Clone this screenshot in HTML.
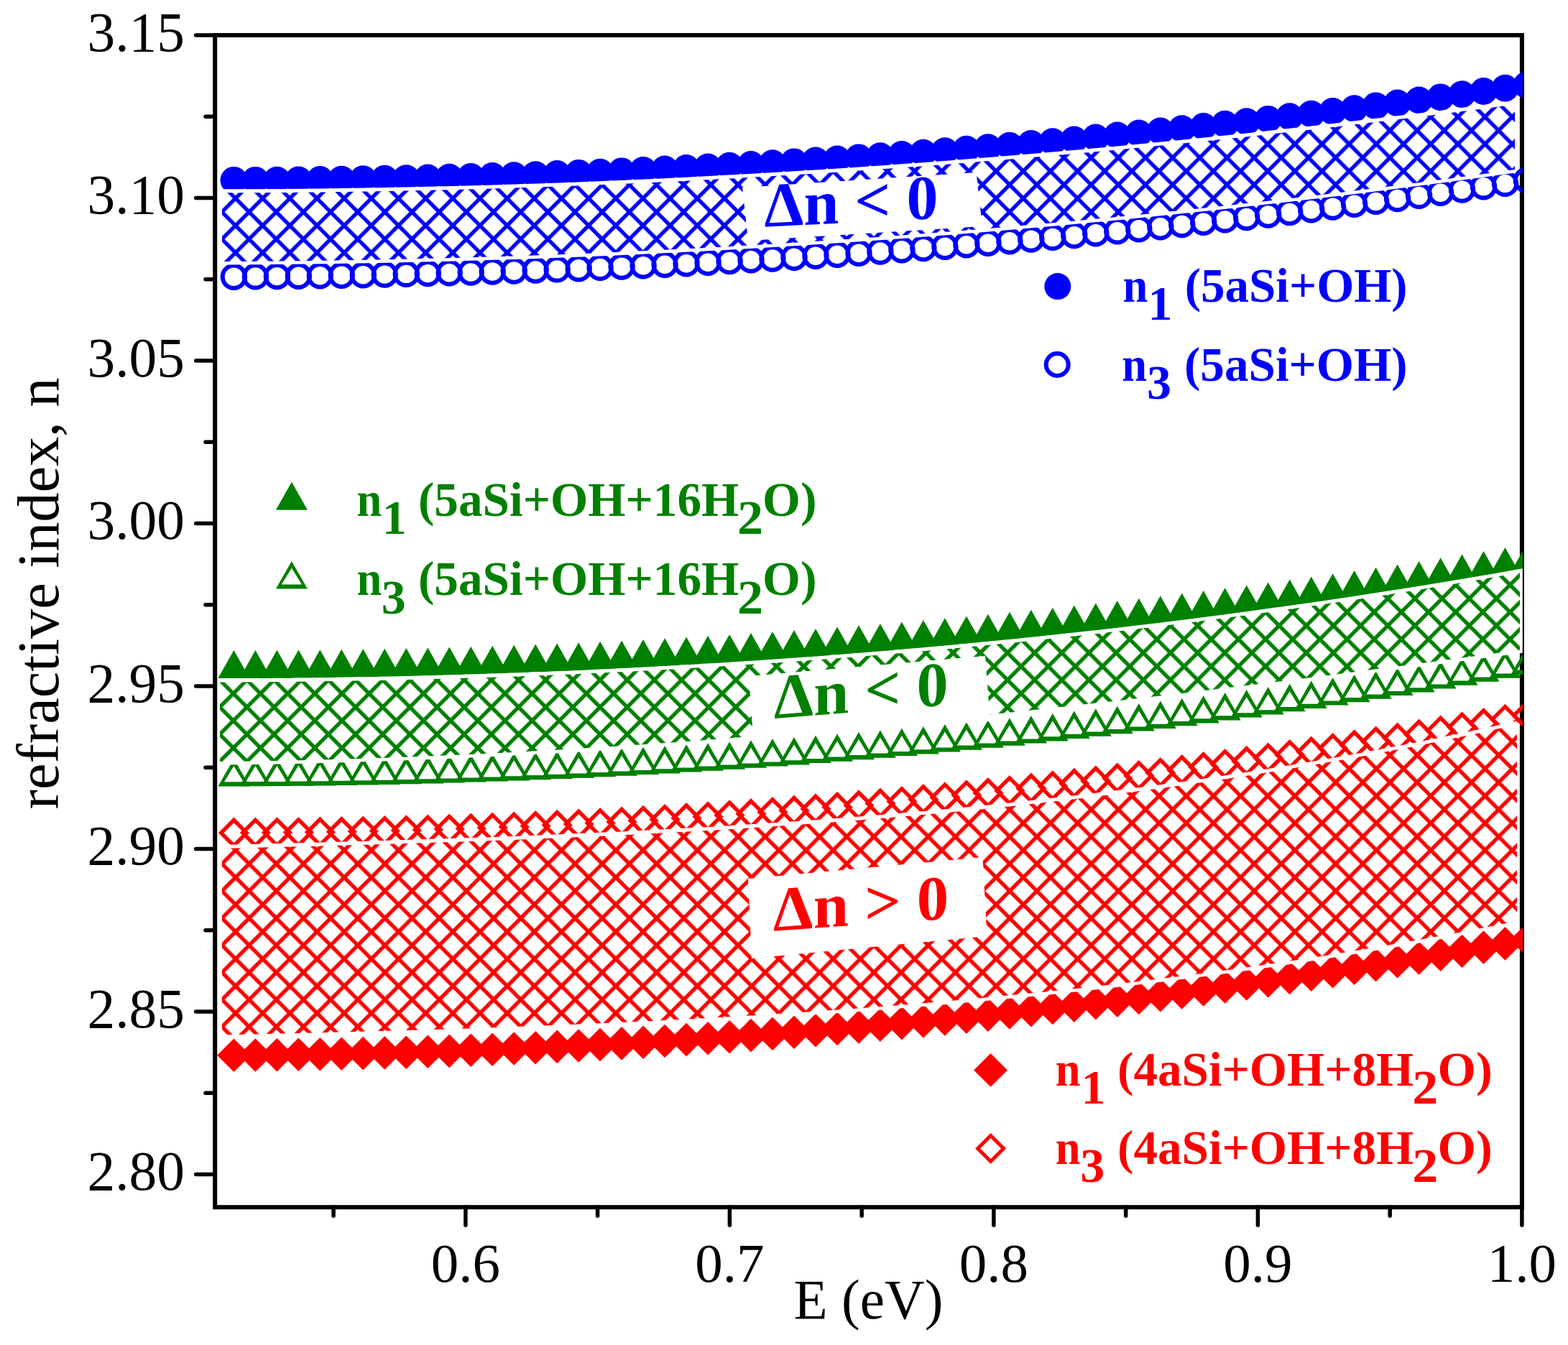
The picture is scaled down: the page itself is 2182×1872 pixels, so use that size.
<!DOCTYPE html><html><head><meta charset="utf-8"><style>html,body{margin:0;padding:0;background:#fff;}svg{display:block}</style></head><body>
<svg width="2182" height="1872" viewBox="0 0 2182 1872">
<defs>
<clipPath id="plot"><rect x="299" y="49" width="1820" height="1631"/></clipPath>
<pattern id="hb" patternUnits="userSpaceOnUse" x="327.7" y="276.1" width="37.8" height="37.8"><path d="M-18.9,-18.9 L56.699999999999996,56.699999999999996 M-18.9,56.699999999999996 L56.699999999999996,-18.9 M-18.9,18.9 L18.9,-18.9 M18.9,56.699999999999996 L56.699999999999996,18.9 M-18.9,18.9 L18.9,56.699999999999996 M18.9,-18.9 L56.699999999999996,18.9" stroke="#0000ff" stroke-width="5.4" fill="none"/></pattern>
<pattern id="hg" patternUnits="userSpaceOnUse" x="324.7" y="965.3" width="37.8" height="37.8"><path d="M-18.9,-18.9 L56.699999999999996,56.699999999999996 M-18.9,56.699999999999996 L56.699999999999996,-18.9 M-18.9,18.9 L18.9,-18.9 M18.9,56.699999999999996 L56.699999999999996,18.9 M-18.9,18.9 L18.9,56.699999999999996 M18.9,-18.9 L56.699999999999996,18.9" stroke="#008000" stroke-width="5.4" fill="none"/></pattern>
<pattern id="hr" patternUnits="userSpaceOnUse" x="327.8" y="1183.4" width="37.8" height="37.8"><path d="M-18.9,-18.9 L56.699999999999996,56.699999999999996 M-18.9,56.699999999999996 L56.699999999999996,-18.9 M-18.9,18.9 L18.9,-18.9 M18.9,56.699999999999996 L56.699999999999996,18.9 M-18.9,18.9 L18.9,56.699999999999996 M18.9,-18.9 L56.699999999999996,18.9" stroke="#ff0000" stroke-width="5.4" fill="none"/></pattern>
</defs>
<rect width="100%" height="100%" fill="#fff"/>
<rect x="299.2" y="49" width="1818.7" height="1631.2" stroke="#000" stroke-width="6" fill="none"/>
<g clip-path="url(#plot)">
<g><circle cx="325.4" cy="250.8" r="18.9" fill="#0000ff"/><circle cx="355.4" cy="250.8" r="18.9" fill="#0000ff"/><circle cx="385.4" cy="250.6" r="18.9" fill="#0000ff"/><circle cx="415.4" cy="250.4" r="18.9" fill="#0000ff"/><circle cx="445.3" cy="250" r="18.9" fill="#0000ff"/><circle cx="475.3" cy="249.7" r="18.9" fill="#0000ff"/><circle cx="505.3" cy="249.2" r="18.9" fill="#0000ff"/><circle cx="535.3" cy="248.7" r="18.9" fill="#0000ff"/><circle cx="565.3" cy="248.1" r="18.9" fill="#0000ff"/><circle cx="595.3" cy="247.5" r="18.9" fill="#0000ff"/><circle cx="625.2" cy="246.7" r="18.9" fill="#0000ff"/><circle cx="655.2" cy="245.9" r="18.9" fill="#0000ff"/><circle cx="685.2" cy="245" r="18.9" fill="#0000ff"/><circle cx="715.2" cy="244.1" r="18.9" fill="#0000ff"/><circle cx="745.2" cy="243.1" r="18.9" fill="#0000ff"/><circle cx="775.2" cy="242" r="18.9" fill="#0000ff"/><circle cx="805.2" cy="240.8" r="18.9" fill="#0000ff"/><circle cx="835.1" cy="239.6" r="18.9" fill="#0000ff"/><circle cx="865.1" cy="238.3" r="18.9" fill="#0000ff"/><circle cx="895.1" cy="236.9" r="18.9" fill="#0000ff"/><circle cx="925.1" cy="235.5" r="18.9" fill="#0000ff"/><circle cx="955.1" cy="234" r="18.9" fill="#0000ff"/><circle cx="985.1" cy="232.4" r="18.9" fill="#0000ff"/><circle cx="1015.1" cy="230.7" r="18.9" fill="#0000ff"/><circle cx="1045" cy="229" r="18.9" fill="#0000ff"/><circle cx="1075" cy="227.2" r="18.9" fill="#0000ff"/><circle cx="1105" cy="225.3" r="18.9" fill="#0000ff"/><circle cx="1135" cy="223.4" r="18.9" fill="#0000ff"/><circle cx="1165" cy="221.4" r="18.9" fill="#0000ff"/><circle cx="1195" cy="219.3" r="18.9" fill="#0000ff"/><circle cx="1224.9" cy="217.1" r="18.9" fill="#0000ff"/><circle cx="1254.9" cy="214.9" r="18.9" fill="#0000ff"/><circle cx="1284.9" cy="212.6" r="18.9" fill="#0000ff"/><circle cx="1314.9" cy="210.2" r="18.9" fill="#0000ff"/><circle cx="1344.9" cy="207.7" r="18.9" fill="#0000ff"/><circle cx="1374.9" cy="205.2" r="18.9" fill="#0000ff"/><circle cx="1404.9" cy="202.6" r="18.9" fill="#0000ff"/><circle cx="1434.8" cy="199.9" r="18.9" fill="#0000ff"/><circle cx="1464.8" cy="197.2" r="18.9" fill="#0000ff"/><circle cx="1494.8" cy="194.4" r="18.9" fill="#0000ff"/><circle cx="1524.8" cy="191.5" r="18.9" fill="#0000ff"/><circle cx="1554.8" cy="188.5" r="18.9" fill="#0000ff"/><circle cx="1584.8" cy="185.5" r="18.9" fill="#0000ff"/><circle cx="1614.8" cy="182.4" r="18.9" fill="#0000ff"/><circle cx="1644.7" cy="179.2" r="18.9" fill="#0000ff"/><circle cx="1674.7" cy="176" r="18.9" fill="#0000ff"/><circle cx="1704.7" cy="172.6" r="18.9" fill="#0000ff"/><circle cx="1734.7" cy="169.2" r="18.9" fill="#0000ff"/><circle cx="1764.7" cy="165.8" r="18.9" fill="#0000ff"/><circle cx="1794.7" cy="162.2" r="18.9" fill="#0000ff"/><circle cx="1824.7" cy="158.6" r="18.9" fill="#0000ff"/><circle cx="1854.6" cy="154.9" r="18.9" fill="#0000ff"/><circle cx="1884.6" cy="151.1" r="18.9" fill="#0000ff"/><circle cx="1914.6" cy="147.3" r="18.9" fill="#0000ff"/><circle cx="1944.6" cy="143.4" r="18.9" fill="#0000ff"/><circle cx="1974.6" cy="139.4" r="18.9" fill="#0000ff"/><circle cx="2004.6" cy="135.3" r="18.9" fill="#0000ff"/><circle cx="2034.5" cy="131.2" r="18.9" fill="#0000ff"/><circle cx="2064.5" cy="127" r="18.9" fill="#0000ff"/><circle cx="2094.5" cy="122.7" r="18.9" fill="#0000ff"/><circle cx="2124.5" cy="118.4" r="18.9" fill="#0000ff"/></g>
<g><circle cx="325.4" cy="385.2" r="15.7" fill="none" stroke="#0000ff" stroke-width="6"/><circle cx="355.4" cy="384.9" r="15.7" fill="none" stroke="#0000ff" stroke-width="6"/><circle cx="385.4" cy="384.6" r="15.7" fill="none" stroke="#0000ff" stroke-width="6"/><circle cx="415.4" cy="384.2" r="15.7" fill="none" stroke="#0000ff" stroke-width="6"/><circle cx="445.3" cy="383.8" r="15.7" fill="none" stroke="#0000ff" stroke-width="6"/><circle cx="475.3" cy="383.3" r="15.7" fill="none" stroke="#0000ff" stroke-width="6"/><circle cx="505.3" cy="382.7" r="15.7" fill="none" stroke="#0000ff" stroke-width="6"/><circle cx="535.3" cy="382.1" r="15.7" fill="none" stroke="#0000ff" stroke-width="6"/><circle cx="565.3" cy="381.4" r="15.7" fill="none" stroke="#0000ff" stroke-width="6"/><circle cx="595.3" cy="380.6" r="15.7" fill="none" stroke="#0000ff" stroke-width="6"/><circle cx="625.2" cy="379.8" r="15.7" fill="none" stroke="#0000ff" stroke-width="6"/><circle cx="655.2" cy="379" r="15.7" fill="none" stroke="#0000ff" stroke-width="6"/><circle cx="685.2" cy="378" r="15.7" fill="none" stroke="#0000ff" stroke-width="6"/><circle cx="715.2" cy="377" r="15.7" fill="none" stroke="#0000ff" stroke-width="6"/><circle cx="745.2" cy="376" r="15.7" fill="none" stroke="#0000ff" stroke-width="6"/><circle cx="775.2" cy="374.9" r="15.7" fill="none" stroke="#0000ff" stroke-width="6"/><circle cx="805.2" cy="373.7" r="15.7" fill="none" stroke="#0000ff" stroke-width="6"/><circle cx="835.1" cy="372.4" r="15.7" fill="none" stroke="#0000ff" stroke-width="6"/><circle cx="865.1" cy="371.1" r="15.7" fill="none" stroke="#0000ff" stroke-width="6"/><circle cx="895.1" cy="369.7" r="15.7" fill="none" stroke="#0000ff" stroke-width="6"/><circle cx="925.1" cy="368.3" r="15.7" fill="none" stroke="#0000ff" stroke-width="6"/><circle cx="955.1" cy="366.8" r="15.7" fill="none" stroke="#0000ff" stroke-width="6"/><circle cx="985.1" cy="365.2" r="15.7" fill="none" stroke="#0000ff" stroke-width="6"/><circle cx="1015.1" cy="363.5" r="15.7" fill="none" stroke="#0000ff" stroke-width="6"/><circle cx="1045" cy="361.8" r="15.7" fill="none" stroke="#0000ff" stroke-width="6"/><circle cx="1075" cy="360" r="15.7" fill="none" stroke="#0000ff" stroke-width="6"/><circle cx="1105" cy="358.2" r="15.7" fill="none" stroke="#0000ff" stroke-width="6"/><circle cx="1135" cy="356.2" r="15.7" fill="none" stroke="#0000ff" stroke-width="6"/><circle cx="1165" cy="354.2" r="15.7" fill="none" stroke="#0000ff" stroke-width="6"/><circle cx="1195" cy="352.2" r="15.7" fill="none" stroke="#0000ff" stroke-width="6"/><circle cx="1224.9" cy="350" r="15.7" fill="none" stroke="#0000ff" stroke-width="6"/><circle cx="1254.9" cy="347.8" r="15.7" fill="none" stroke="#0000ff" stroke-width="6"/><circle cx="1284.9" cy="345.6" r="15.7" fill="none" stroke="#0000ff" stroke-width="6"/><circle cx="1314.9" cy="343.2" r="15.7" fill="none" stroke="#0000ff" stroke-width="6"/><circle cx="1344.9" cy="340.8" r="15.7" fill="none" stroke="#0000ff" stroke-width="6"/><circle cx="1374.9" cy="338.3" r="15.7" fill="none" stroke="#0000ff" stroke-width="6"/><circle cx="1404.9" cy="335.7" r="15.7" fill="none" stroke="#0000ff" stroke-width="6"/><circle cx="1434.8" cy="333.1" r="15.7" fill="none" stroke="#0000ff" stroke-width="6"/><circle cx="1464.8" cy="330.4" r="15.7" fill="none" stroke="#0000ff" stroke-width="6"/><circle cx="1494.8" cy="327.6" r="15.7" fill="none" stroke="#0000ff" stroke-width="6"/><circle cx="1524.8" cy="324.7" r="15.7" fill="none" stroke="#0000ff" stroke-width="6"/><circle cx="1554.8" cy="321.8" r="15.7" fill="none" stroke="#0000ff" stroke-width="6"/><circle cx="1584.8" cy="318.8" r="15.7" fill="none" stroke="#0000ff" stroke-width="6"/><circle cx="1614.8" cy="315.7" r="15.7" fill="none" stroke="#0000ff" stroke-width="6"/><circle cx="1644.7" cy="312.5" r="15.7" fill="none" stroke="#0000ff" stroke-width="6"/><circle cx="1674.7" cy="309.3" r="15.7" fill="none" stroke="#0000ff" stroke-width="6"/><circle cx="1704.7" cy="305.9" r="15.7" fill="none" stroke="#0000ff" stroke-width="6"/><circle cx="1734.7" cy="302.5" r="15.7" fill="none" stroke="#0000ff" stroke-width="6"/><circle cx="1764.7" cy="299" r="15.7" fill="none" stroke="#0000ff" stroke-width="6"/><circle cx="1794.7" cy="295.5" r="15.7" fill="none" stroke="#0000ff" stroke-width="6"/><circle cx="1824.7" cy="291.8" r="15.7" fill="none" stroke="#0000ff" stroke-width="6"/><circle cx="1854.6" cy="288.1" r="15.7" fill="none" stroke="#0000ff" stroke-width="6"/><circle cx="1884.6" cy="284.3" r="15.7" fill="none" stroke="#0000ff" stroke-width="6"/><circle cx="1914.6" cy="280.4" r="15.7" fill="none" stroke="#0000ff" stroke-width="6"/><circle cx="1944.6" cy="276.5" r="15.7" fill="none" stroke="#0000ff" stroke-width="6"/><circle cx="1974.6" cy="272.4" r="15.7" fill="none" stroke="#0000ff" stroke-width="6"/><circle cx="2004.6" cy="268.3" r="15.7" fill="none" stroke="#0000ff" stroke-width="6"/><circle cx="2034.5" cy="264.1" r="15.7" fill="none" stroke="#0000ff" stroke-width="6"/><circle cx="2064.5" cy="259.8" r="15.7" fill="none" stroke="#0000ff" stroke-width="6"/><circle cx="2094.5" cy="255.4" r="15.7" fill="none" stroke="#0000ff" stroke-width="6"/><circle cx="2124.5" cy="250.9" r="15.7" fill="none" stroke="#0000ff" stroke-width="6"/></g>
<g><path d="M325.4,905l22,39h-44z" fill="#008000"/><path d="M355.4,904.9l22,39h-44z" fill="#008000"/><path d="M385.4,904.7l22,39h-44z" fill="#008000"/><path d="M415.4,904.5l22,39h-44z" fill="#008000"/><path d="M445.3,904.2l22,39h-44z" fill="#008000"/><path d="M475.3,903.8l22,39h-44z" fill="#008000"/><path d="M505.3,903.3l22,39h-44z" fill="#008000"/><path d="M535.3,902.7l22,39h-44z" fill="#008000"/><path d="M565.3,902.1l22,39h-44z" fill="#008000"/><path d="M595.3,901.4l22,39h-44z" fill="#008000"/><path d="M625.2,900.6l22,39h-44z" fill="#008000"/><path d="M655.2,899.7l22,39h-44z" fill="#008000"/><path d="M685.2,898.8l22,39h-44z" fill="#008000"/><path d="M715.2,897.7l22,39h-44z" fill="#008000"/><path d="M745.2,896.6l22,39h-44z" fill="#008000"/><path d="M775.2,895.4l22,39h-44z" fill="#008000"/><path d="M805.2,894.2l22,39h-44z" fill="#008000"/><path d="M835.1,892.8l22,39h-44z" fill="#008000"/><path d="M865.1,891.4l22,39h-44z" fill="#008000"/><path d="M895.1,889.9l22,39h-44z" fill="#008000"/><path d="M925.1,888.3l22,39h-44z" fill="#008000"/><path d="M955.1,886.6l22,39h-44z" fill="#008000"/><path d="M985.1,884.8l22,39h-44z" fill="#008000"/><path d="M1015.1,883l22,39h-44z" fill="#008000"/><path d="M1045,881.1l22,39h-44z" fill="#008000"/><path d="M1075,879.1l22,39h-44z" fill="#008000"/><path d="M1105,877l22,39h-44z" fill="#008000"/><path d="M1135,874.9l22,39h-44z" fill="#008000"/><path d="M1165,872.6l22,39h-44z" fill="#008000"/><path d="M1195,870.3l22,39h-44z" fill="#008000"/><path d="M1224.9,867.9l22,39h-44z" fill="#008000"/><path d="M1254.9,865.4l22,39h-44z" fill="#008000"/><path d="M1284.9,862.9l22,39h-44z" fill="#008000"/><path d="M1314.9,860.2l22,39h-44z" fill="#008000"/><path d="M1344.9,857.5l22,39h-44z" fill="#008000"/><path d="M1374.9,854.7l22,39h-44z" fill="#008000"/><path d="M1404.9,851.8l22,39h-44z" fill="#008000"/><path d="M1434.8,848.8l22,39h-44z" fill="#008000"/><path d="M1464.8,845.7l22,39h-44z" fill="#008000"/><path d="M1494.8,842.6l22,39h-44z" fill="#008000"/><path d="M1524.8,839.4l22,39h-44z" fill="#008000"/><path d="M1554.8,836.1l22,39h-44z" fill="#008000"/><path d="M1584.8,832.7l22,39h-44z" fill="#008000"/><path d="M1614.8,829.2l22,39h-44z" fill="#008000"/><path d="M1644.7,825.6l22,39h-44z" fill="#008000"/><path d="M1674.7,822l22,39h-44z" fill="#008000"/><path d="M1704.7,818.2l22,39h-44z" fill="#008000"/><path d="M1734.7,814.4l22,39h-44z" fill="#008000"/><path d="M1764.7,810.5l22,39h-44z" fill="#008000"/><path d="M1794.7,806.5l22,39h-44z" fill="#008000"/><path d="M1824.7,802.5l22,39h-44z" fill="#008000"/><path d="M1854.6,798.3l22,39h-44z" fill="#008000"/><path d="M1884.6,794.1l22,39h-44z" fill="#008000"/><path d="M1914.6,789.8l22,39h-44z" fill="#008000"/><path d="M1944.6,785.4l22,39h-44z" fill="#008000"/><path d="M1974.6,780.9l22,39h-44z" fill="#008000"/><path d="M2004.6,776.3l22,39h-44z" fill="#008000"/><path d="M2034.5,771.6l22,39h-44z" fill="#008000"/><path d="M2064.5,766.9l22,39h-44z" fill="#008000"/><path d="M2094.5,762l22,39h-44z" fill="#008000"/><path d="M2124.5,757.1l22,39h-44z" fill="#008000"/></g>
<g><path d="M325.4,1055.9l22,38.5h-44z M325.4,1066.2l-13.4,22h26.8z" fill="#008000" fill-rule="evenodd"/><path d="M355.4,1055.8l22,38.5h-44z M355.4,1066.1l-13.4,22h26.8z" fill="#008000" fill-rule="evenodd"/><path d="M385.4,1055.6l22,38.5h-44z M385.4,1065.9l-13.4,22h26.8z" fill="#008000" fill-rule="evenodd"/><path d="M415.4,1055.3l22,38.5h-44z M415.4,1065.6l-13.4,22h26.8z" fill="#008000" fill-rule="evenodd"/><path d="M445.3,1055l22,38.5h-44z M445.3,1065.3l-13.4,22h26.8z" fill="#008000" fill-rule="evenodd"/><path d="M475.3,1054.5l22,38.5h-44z M475.3,1064.8l-13.4,22h26.8z" fill="#008000" fill-rule="evenodd"/><path d="M505.3,1054l22,38.5h-44z M505.3,1064.3l-13.4,22h26.8z" fill="#008000" fill-rule="evenodd"/><path d="M535.3,1053.4l22,38.5h-44z M535.3,1063.7l-13.4,22h26.8z" fill="#008000" fill-rule="evenodd"/><path d="M565.3,1052.7l22,38.5h-44z M565.3,1063l-13.4,22h26.8z" fill="#008000" fill-rule="evenodd"/><path d="M595.3,1051.9l22,38.5h-44z M595.3,1062.2l-13.4,22h26.8z" fill="#008000" fill-rule="evenodd"/><path d="M625.2,1051.1l22,38.5h-44z M625.2,1061.4l-13.4,22h26.8z" fill="#008000" fill-rule="evenodd"/><path d="M655.2,1050.1l22,38.5h-44z M655.2,1060.4l-13.4,22h26.8z" fill="#008000" fill-rule="evenodd"/><path d="M685.2,1049.1l22,38.5h-44z M685.2,1059.4l-13.4,22h26.8z" fill="#008000" fill-rule="evenodd"/><path d="M715.2,1048l22,38.5h-44z M715.2,1058.3l-13.4,22h26.8z" fill="#008000" fill-rule="evenodd"/><path d="M745.2,1046.8l22,38.5h-44z M745.2,1057.1l-13.4,22h26.8z" fill="#008000" fill-rule="evenodd"/><path d="M775.2,1045.5l22,38.5h-44z M775.2,1055.8l-13.4,22h26.8z" fill="#008000" fill-rule="evenodd"/><path d="M805.2,1044.2l22,38.5h-44z M805.2,1054.5l-13.4,22h26.8z" fill="#008000" fill-rule="evenodd"/><path d="M835.1,1042.7l22,38.5h-44z M835.1,1053l-13.4,22h26.8z" fill="#008000" fill-rule="evenodd"/><path d="M865.1,1041.2l22,38.5h-44z M865.1,1051.5l-13.4,22h26.8z" fill="#008000" fill-rule="evenodd"/><path d="M895.1,1039.6l22,38.5h-44z M895.1,1049.9l-13.4,22h26.8z" fill="#008000" fill-rule="evenodd"/><path d="M925.1,1037.9l22,38.5h-44z M925.1,1048.2l-13.4,22h26.8z" fill="#008000" fill-rule="evenodd"/><path d="M955.1,1036.1l22,38.5h-44z M955.1,1046.4l-13.4,22h26.8z" fill="#008000" fill-rule="evenodd"/><path d="M985.1,1034.2l22,38.5h-44z M985.1,1044.5l-13.4,22h26.8z" fill="#008000" fill-rule="evenodd"/><path d="M1015.1,1032.3l22,38.5h-44z M1015.1,1042.6l-13.4,22h26.8z" fill="#008000" fill-rule="evenodd"/><path d="M1045,1030.3l22,38.5h-44z M1045,1040.6l-13.4,22h26.8z" fill="#008000" fill-rule="evenodd"/><path d="M1075,1028.1l22,38.5h-44z M1075,1038.4l-13.4,22h26.8z" fill="#008000" fill-rule="evenodd"/><path d="M1105,1025.9l22,38.5h-44z M1105,1036.2l-13.4,22h26.8z" fill="#008000" fill-rule="evenodd"/><path d="M1135,1023.6l22,38.5h-44z M1135,1033.9l-13.4,22h26.8z" fill="#008000" fill-rule="evenodd"/><path d="M1165,1021.3l22,38.5h-44z M1165,1031.6l-13.4,22h26.8z" fill="#008000" fill-rule="evenodd"/><path d="M1195,1018.8l22,38.5h-44z M1195,1029.1l-13.4,22h26.8z" fill="#008000" fill-rule="evenodd"/><path d="M1224.9,1016.3l22,38.5h-44z M1224.9,1026.6l-13.4,22h26.8z" fill="#008000" fill-rule="evenodd"/><path d="M1254.9,1013.6l22,38.5h-44z M1254.9,1023.9l-13.4,22h26.8z" fill="#008000" fill-rule="evenodd"/><path d="M1284.9,1010.9l22,38.5h-44z M1284.9,1021.2l-13.4,22h26.8z" fill="#008000" fill-rule="evenodd"/><path d="M1314.9,1008.1l22,38.5h-44z M1314.9,1018.4l-13.4,22h26.8z" fill="#008000" fill-rule="evenodd"/><path d="M1344.9,1005.2l22,38.5h-44z M1344.9,1015.5l-13.4,22h26.8z" fill="#008000" fill-rule="evenodd"/><path d="M1374.9,1002.3l22,38.5h-44z M1374.9,1012.6l-13.4,22h26.8z" fill="#008000" fill-rule="evenodd"/><path d="M1404.9,999.2l22,38.5h-44z M1404.9,1009.5l-13.4,22h26.8z" fill="#008000" fill-rule="evenodd"/><path d="M1434.8,996.1l22,38.5h-44z M1434.8,1006.4l-13.4,22h26.8z" fill="#008000" fill-rule="evenodd"/><path d="M1464.8,992.9l22,38.5h-44z M1464.8,1003.2l-13.4,22h26.8z" fill="#008000" fill-rule="evenodd"/><path d="M1494.8,989.5l22,38.5h-44z M1494.8,999.8l-13.4,22h26.8z" fill="#008000" fill-rule="evenodd"/><path d="M1524.8,986.2l22,38.5h-44z M1524.8,996.5l-13.4,22h26.8z" fill="#008000" fill-rule="evenodd"/><path d="M1554.8,982.7l22,38.5h-44z M1554.8,993l-13.4,22h26.8z" fill="#008000" fill-rule="evenodd"/><path d="M1584.8,979.1l22,38.5h-44z M1584.8,989.4l-13.4,22h26.8z" fill="#008000" fill-rule="evenodd"/><path d="M1614.8,975.5l22,38.5h-44z M1614.8,985.8l-13.4,22h26.8z" fill="#008000" fill-rule="evenodd"/><path d="M1644.7,971.7l22,38.5h-44z M1644.7,982l-13.4,22h26.8z" fill="#008000" fill-rule="evenodd"/><path d="M1674.7,967.9l22,38.5h-44z M1674.7,978.2l-13.4,22h26.8z" fill="#008000" fill-rule="evenodd"/><path d="M1704.7,964l22,38.5h-44z M1704.7,974.3l-13.4,22h26.8z" fill="#008000" fill-rule="evenodd"/><path d="M1734.7,960l22,38.5h-44z M1734.7,970.3l-13.4,22h26.8z" fill="#008000" fill-rule="evenodd"/><path d="M1764.7,955.9l22,38.5h-44z M1764.7,966.2l-13.4,22h26.8z" fill="#008000" fill-rule="evenodd"/><path d="M1794.7,951.7l22,38.5h-44z M1794.7,962l-13.4,22h26.8z" fill="#008000" fill-rule="evenodd"/><path d="M1824.7,947.5l22,38.5h-44z M1824.7,957.8l-13.4,22h26.8z" fill="#008000" fill-rule="evenodd"/><path d="M1854.6,943.1l22,38.5h-44z M1854.6,953.4l-13.4,22h26.8z" fill="#008000" fill-rule="evenodd"/><path d="M1884.6,938.7l22,38.5h-44z M1884.6,949l-13.4,22h26.8z" fill="#008000" fill-rule="evenodd"/><path d="M1914.6,934.2l22,38.5h-44z M1914.6,944.5l-13.4,22h26.8z" fill="#008000" fill-rule="evenodd"/><path d="M1944.6,929.6l22,38.5h-44z M1944.6,939.9l-13.4,22h26.8z" fill="#008000" fill-rule="evenodd"/><path d="M1974.6,924.9l22,38.5h-44z M1974.6,935.2l-13.4,22h26.8z" fill="#008000" fill-rule="evenodd"/><path d="M2004.6,920.1l22,38.5h-44z M2004.6,930.4l-13.4,22h26.8z" fill="#008000" fill-rule="evenodd"/><path d="M2034.5,915.3l22,38.5h-44z M2034.5,925.6l-13.4,22h26.8z" fill="#008000" fill-rule="evenodd"/><path d="M2064.5,910.3l22,38.5h-44z M2064.5,920.6l-13.4,22h26.8z" fill="#008000" fill-rule="evenodd"/><path d="M2094.5,905.3l22,38.5h-44z M2094.5,915.6l-13.4,22h26.8z" fill="#008000" fill-rule="evenodd"/><path d="M2124.5,900.2l22,38.5h-44z M2124.5,910.5l-13.4,22h26.8z" fill="#008000" fill-rule="evenodd"/></g>
<g><path d="M325.4,1137.6l21.6,21.6l-21.6,21.6l-21.6,-21.6z M325.4,1145.2l-14.0,14.0l14.0,14.0l14.0,-14.0z" fill="#ff0000" fill-rule="evenodd"/><path d="M355.4,1137.4l21.6,21.6l-21.6,21.6l-21.6,-21.6z M355.4,1145l-14.0,14.0l14.0,14.0l14.0,-14.0z" fill="#ff0000" fill-rule="evenodd"/><path d="M385.4,1137.2l21.6,21.6l-21.6,21.6l-21.6,-21.6z M385.4,1144.8l-14.0,14.0l14.0,14.0l14.0,-14.0z" fill="#ff0000" fill-rule="evenodd"/><path d="M415.4,1136.9l21.6,21.6l-21.6,21.6l-21.6,-21.6z M415.4,1144.5l-14.0,14.0l14.0,14.0l14.0,-14.0z" fill="#ff0000" fill-rule="evenodd"/><path d="M445.3,1136.6l21.6,21.6l-21.6,21.6l-21.6,-21.6z M445.3,1144.2l-14.0,14.0l14.0,14.0l14.0,-14.0z" fill="#ff0000" fill-rule="evenodd"/><path d="M475.3,1136.1l21.6,21.6l-21.6,21.6l-21.6,-21.6z M475.3,1143.7l-14.0,14.0l14.0,14.0l14.0,-14.0z" fill="#ff0000" fill-rule="evenodd"/><path d="M505.3,1135.5l21.6,21.6l-21.6,21.6l-21.6,-21.6z M505.3,1143.1l-14.0,14.0l14.0,14.0l14.0,-14.0z" fill="#ff0000" fill-rule="evenodd"/><path d="M535.3,1134.9l21.6,21.6l-21.6,21.6l-21.6,-21.6z M535.3,1142.5l-14.0,14.0l14.0,14.0l14.0,-14.0z" fill="#ff0000" fill-rule="evenodd"/><path d="M565.3,1134.2l21.6,21.6l-21.6,21.6l-21.6,-21.6z M565.3,1141.8l-14.0,14.0l14.0,14.0l14.0,-14.0z" fill="#ff0000" fill-rule="evenodd"/><path d="M595.3,1133.4l21.6,21.6l-21.6,21.6l-21.6,-21.6z M595.3,1141l-14.0,14.0l14.0,14.0l14.0,-14.0z" fill="#ff0000" fill-rule="evenodd"/><path d="M625.2,1132.5l21.6,21.6l-21.6,21.6l-21.6,-21.6z M625.2,1140.1l-14.0,14.0l14.0,14.0l14.0,-14.0z" fill="#ff0000" fill-rule="evenodd"/><path d="M655.2,1131.6l21.6,21.6l-21.6,21.6l-21.6,-21.6z M655.2,1139.2l-14.0,14.0l14.0,14.0l14.0,-14.0z" fill="#ff0000" fill-rule="evenodd"/><path d="M685.2,1130.5l21.6,21.6l-21.6,21.6l-21.6,-21.6z M685.2,1138.1l-14.0,14.0l14.0,14.0l14.0,-14.0z" fill="#ff0000" fill-rule="evenodd"/><path d="M715.2,1129.4l21.6,21.6l-21.6,21.6l-21.6,-21.6z M715.2,1137l-14.0,14.0l14.0,14.0l14.0,-14.0z" fill="#ff0000" fill-rule="evenodd"/><path d="M745.2,1128.1l21.6,21.6l-21.6,21.6l-21.6,-21.6z M745.2,1135.7l-14.0,14.0l14.0,14.0l14.0,-14.0z" fill="#ff0000" fill-rule="evenodd"/><path d="M775.2,1126.8l21.6,21.6l-21.6,21.6l-21.6,-21.6z M775.2,1134.4l-14.0,14.0l14.0,14.0l14.0,-14.0z" fill="#ff0000" fill-rule="evenodd"/><path d="M805.2,1125.4l21.6,21.6l-21.6,21.6l-21.6,-21.6z M805.2,1133l-14.0,14.0l14.0,14.0l14.0,-14.0z" fill="#ff0000" fill-rule="evenodd"/><path d="M835.1,1124l21.6,21.6l-21.6,21.6l-21.6,-21.6z M835.1,1131.6l-14.0,14.0l14.0,14.0l14.0,-14.0z" fill="#ff0000" fill-rule="evenodd"/><path d="M865.1,1122.4l21.6,21.6l-21.6,21.6l-21.6,-21.6z M865.1,1130l-14.0,14.0l14.0,14.0l14.0,-14.0z" fill="#ff0000" fill-rule="evenodd"/><path d="M895.1,1120.7l21.6,21.6l-21.6,21.6l-21.6,-21.6z M895.1,1128.3l-14.0,14.0l14.0,14.0l14.0,-14.0z" fill="#ff0000" fill-rule="evenodd"/><path d="M925.1,1119l21.6,21.6l-21.6,21.6l-21.6,-21.6z M925.1,1126.6l-14.0,14.0l14.0,14.0l14.0,-14.0z" fill="#ff0000" fill-rule="evenodd"/><path d="M955.1,1117.1l21.6,21.6l-21.6,21.6l-21.6,-21.6z M955.1,1124.7l-14.0,14.0l14.0,14.0l14.0,-14.0z" fill="#ff0000" fill-rule="evenodd"/><path d="M985.1,1115.2l21.6,21.6l-21.6,21.6l-21.6,-21.6z M985.1,1122.8l-14.0,14.0l14.0,14.0l14.0,-14.0z" fill="#ff0000" fill-rule="evenodd"/><path d="M1015.1,1113.2l21.6,21.6l-21.6,21.6l-21.6,-21.6z M1015.1,1120.8l-14.0,14.0l14.0,14.0l14.0,-14.0z" fill="#ff0000" fill-rule="evenodd"/><path d="M1045,1111.1l21.6,21.6l-21.6,21.6l-21.6,-21.6z M1045,1118.7l-14.0,14.0l14.0,14.0l14.0,-14.0z" fill="#ff0000" fill-rule="evenodd"/><path d="M1075,1108.9l21.6,21.6l-21.6,21.6l-21.6,-21.6z M1075,1116.5l-14.0,14.0l14.0,14.0l14.0,-14.0z" fill="#ff0000" fill-rule="evenodd"/><path d="M1105,1106.6l21.6,21.6l-21.6,21.6l-21.6,-21.6z M1105,1114.2l-14.0,14.0l14.0,14.0l14.0,-14.0z" fill="#ff0000" fill-rule="evenodd"/><path d="M1135,1104.3l21.6,21.6l-21.6,21.6l-21.6,-21.6z M1135,1111.9l-14.0,14.0l14.0,14.0l14.0,-14.0z" fill="#ff0000" fill-rule="evenodd"/><path d="M1165,1101.8l21.6,21.6l-21.6,21.6l-21.6,-21.6z M1165,1109.4l-14.0,14.0l14.0,14.0l14.0,-14.0z" fill="#ff0000" fill-rule="evenodd"/><path d="M1195,1099.3l21.6,21.6l-21.6,21.6l-21.6,-21.6z M1195,1106.9l-14.0,14.0l14.0,14.0l14.0,-14.0z" fill="#ff0000" fill-rule="evenodd"/><path d="M1224.9,1096.6l21.6,21.6l-21.6,21.6l-21.6,-21.6z M1224.9,1104.2l-14.0,14.0l14.0,14.0l14.0,-14.0z" fill="#ff0000" fill-rule="evenodd"/><path d="M1254.9,1093.9l21.6,21.6l-21.6,21.6l-21.6,-21.6z M1254.9,1101.5l-14.0,14.0l14.0,14.0l14.0,-14.0z" fill="#ff0000" fill-rule="evenodd"/><path d="M1284.9,1091.1l21.6,21.6l-21.6,21.6l-21.6,-21.6z M1284.9,1098.7l-14.0,14.0l14.0,14.0l14.0,-14.0z" fill="#ff0000" fill-rule="evenodd"/><path d="M1314.9,1088.2l21.6,21.6l-21.6,21.6l-21.6,-21.6z M1314.9,1095.8l-14.0,14.0l14.0,14.0l14.0,-14.0z" fill="#ff0000" fill-rule="evenodd"/><path d="M1344.9,1085.2l21.6,21.6l-21.6,21.6l-21.6,-21.6z M1344.9,1092.8l-14.0,14.0l14.0,14.0l14.0,-14.0z" fill="#ff0000" fill-rule="evenodd"/><path d="M1374.9,1082.1l21.6,21.6l-21.6,21.6l-21.6,-21.6z M1374.9,1089.7l-14.0,14.0l14.0,14.0l14.0,-14.0z" fill="#ff0000" fill-rule="evenodd"/><path d="M1404.9,1078.9l21.6,21.6l-21.6,21.6l-21.6,-21.6z M1404.9,1086.5l-14.0,14.0l14.0,14.0l14.0,-14.0z" fill="#ff0000" fill-rule="evenodd"/><path d="M1434.8,1075.6l21.6,21.6l-21.6,21.6l-21.6,-21.6z M1434.8,1083.2l-14.0,14.0l14.0,14.0l14.0,-14.0z" fill="#ff0000" fill-rule="evenodd"/><path d="M1464.8,1072.3l21.6,21.6l-21.6,21.6l-21.6,-21.6z M1464.8,1079.9l-14.0,14.0l14.0,14.0l14.0,-14.0z" fill="#ff0000" fill-rule="evenodd"/><path d="M1494.8,1068.8l21.6,21.6l-21.6,21.6l-21.6,-21.6z M1494.8,1076.4l-14.0,14.0l14.0,14.0l14.0,-14.0z" fill="#ff0000" fill-rule="evenodd"/><path d="M1524.8,1065.3l21.6,21.6l-21.6,21.6l-21.6,-21.6z M1524.8,1072.9l-14.0,14.0l14.0,14.0l14.0,-14.0z" fill="#ff0000" fill-rule="evenodd"/><path d="M1554.8,1061.6l21.6,21.6l-21.6,21.6l-21.6,-21.6z M1554.8,1069.2l-14.0,14.0l14.0,14.0l14.0,-14.0z" fill="#ff0000" fill-rule="evenodd"/><path d="M1584.8,1057.9l21.6,21.6l-21.6,21.6l-21.6,-21.6z M1584.8,1065.5l-14.0,14.0l14.0,14.0l14.0,-14.0z" fill="#ff0000" fill-rule="evenodd"/><path d="M1614.8,1054l21.6,21.6l-21.6,21.6l-21.6,-21.6z M1614.8,1061.6l-14.0,14.0l14.0,14.0l14.0,-14.0z" fill="#ff0000" fill-rule="evenodd"/><path d="M1644.7,1050.1l21.6,21.6l-21.6,21.6l-21.6,-21.6z M1644.7,1057.7l-14.0,14.0l14.0,14.0l14.0,-14.0z" fill="#ff0000" fill-rule="evenodd"/><path d="M1674.7,1046.1l21.6,21.6l-21.6,21.6l-21.6,-21.6z M1674.7,1053.7l-14.0,14.0l14.0,14.0l14.0,-14.0z" fill="#ff0000" fill-rule="evenodd"/><path d="M1704.7,1042l21.6,21.6l-21.6,21.6l-21.6,-21.6z M1704.7,1049.6l-14.0,14.0l14.0,14.0l14.0,-14.0z" fill="#ff0000" fill-rule="evenodd"/><path d="M1734.7,1037.8l21.6,21.6l-21.6,21.6l-21.6,-21.6z M1734.7,1045.4l-14.0,14.0l14.0,14.0l14.0,-14.0z" fill="#ff0000" fill-rule="evenodd"/><path d="M1764.7,1033.5l21.6,21.6l-21.6,21.6l-21.6,-21.6z M1764.7,1041.1l-14.0,14.0l14.0,14.0l14.0,-14.0z" fill="#ff0000" fill-rule="evenodd"/><path d="M1794.7,1029l21.6,21.6l-21.6,21.6l-21.6,-21.6z M1794.7,1036.6l-14.0,14.0l14.0,14.0l14.0,-14.0z" fill="#ff0000" fill-rule="evenodd"/><path d="M1824.7,1024.6l21.6,21.6l-21.6,21.6l-21.6,-21.6z M1824.7,1032.2l-14.0,14.0l14.0,14.0l14.0,-14.0z" fill="#ff0000" fill-rule="evenodd"/><path d="M1854.6,1020l21.6,21.6l-21.6,21.6l-21.6,-21.6z M1854.6,1027.6l-14.0,14.0l14.0,14.0l14.0,-14.0z" fill="#ff0000" fill-rule="evenodd"/><path d="M1884.6,1015.3l21.6,21.6l-21.6,21.6l-21.6,-21.6z M1884.6,1022.9l-14.0,14.0l14.0,14.0l14.0,-14.0z" fill="#ff0000" fill-rule="evenodd"/><path d="M1914.6,1010.5l21.6,21.6l-21.6,21.6l-21.6,-21.6z M1914.6,1018.1l-14.0,14.0l14.0,14.0l14.0,-14.0z" fill="#ff0000" fill-rule="evenodd"/><path d="M1944.6,1005.6l21.6,21.6l-21.6,21.6l-21.6,-21.6z M1944.6,1013.2l-14.0,14.0l14.0,14.0l14.0,-14.0z" fill="#ff0000" fill-rule="evenodd"/><path d="M1974.6,1000.6l21.6,21.6l-21.6,21.6l-21.6,-21.6z M1974.6,1008.2l-14.0,14.0l14.0,14.0l14.0,-14.0z" fill="#ff0000" fill-rule="evenodd"/><path d="M2004.6,995.5l21.6,21.6l-21.6,21.6l-21.6,-21.6z M2004.6,1003.1l-14.0,14.0l14.0,14.0l14.0,-14.0z" fill="#ff0000" fill-rule="evenodd"/><path d="M2034.5,990.4l21.6,21.6l-21.6,21.6l-21.6,-21.6z M2034.5,998l-14.0,14.0l14.0,14.0l14.0,-14.0z" fill="#ff0000" fill-rule="evenodd"/><path d="M2064.5,985.1l21.6,21.6l-21.6,21.6l-21.6,-21.6z M2064.5,992.7l-14.0,14.0l14.0,14.0l14.0,-14.0z" fill="#ff0000" fill-rule="evenodd"/><path d="M2094.5,979.7l21.6,21.6l-21.6,21.6l-21.6,-21.6z M2094.5,987.3l-14.0,14.0l14.0,14.0l14.0,-14.0z" fill="#ff0000" fill-rule="evenodd"/><path d="M2124.5,974.2l21.6,21.6l-21.6,21.6l-21.6,-21.6z M2124.5,981.8l-14.0,14.0l14.0,14.0l14.0,-14.0z" fill="#ff0000" fill-rule="evenodd"/></g>
<g><path d="M325.4,1445.4l23.3,23.3l-23.3,23.3l-23.3,-23.3z" fill="#ff0000"/><path d="M355.4,1445.2l23.3,23.3l-23.3,23.3l-23.3,-23.3z" fill="#ff0000"/><path d="M385.4,1444.9l23.3,23.3l-23.3,23.3l-23.3,-23.3z" fill="#ff0000"/><path d="M415.4,1444.5l23.3,23.3l-23.3,23.3l-23.3,-23.3z" fill="#ff0000"/><path d="M445.3,1444l23.3,23.3l-23.3,23.3l-23.3,-23.3z" fill="#ff0000"/><path d="M475.3,1443.5l23.3,23.3l-23.3,23.3l-23.3,-23.3z" fill="#ff0000"/><path d="M505.3,1442.8l23.3,23.3l-23.3,23.3l-23.3,-23.3z" fill="#ff0000"/><path d="M535.3,1442.1l23.3,23.3l-23.3,23.3l-23.3,-23.3z" fill="#ff0000"/><path d="M565.3,1441.4l23.3,23.3l-23.3,23.3l-23.3,-23.3z" fill="#ff0000"/><path d="M595.3,1440.5l23.3,23.3l-23.3,23.3l-23.3,-23.3z" fill="#ff0000"/><path d="M625.2,1439.6l23.3,23.3l-23.3,23.3l-23.3,-23.3z" fill="#ff0000"/><path d="M655.2,1438.5l23.3,23.3l-23.3,23.3l-23.3,-23.3z" fill="#ff0000"/><path d="M685.2,1437.4l23.3,23.3l-23.3,23.3l-23.3,-23.3z" fill="#ff0000"/><path d="M715.2,1436.2l23.3,23.3l-23.3,23.3l-23.3,-23.3z" fill="#ff0000"/><path d="M745.2,1435l23.3,23.3l-23.3,23.3l-23.3,-23.3z" fill="#ff0000"/><path d="M775.2,1433.6l23.3,23.3l-23.3,23.3l-23.3,-23.3z" fill="#ff0000"/><path d="M805.2,1432.2l23.3,23.3l-23.3,23.3l-23.3,-23.3z" fill="#ff0000"/><path d="M835.1,1430.7l23.3,23.3l-23.3,23.3l-23.3,-23.3z" fill="#ff0000"/><path d="M865.1,1429.1l23.3,23.3l-23.3,23.3l-23.3,-23.3z" fill="#ff0000"/><path d="M895.1,1427.4l23.3,23.3l-23.3,23.3l-23.3,-23.3z" fill="#ff0000"/><path d="M925.1,1425.7l23.3,23.3l-23.3,23.3l-23.3,-23.3z" fill="#ff0000"/><path d="M955.1,1423.8l23.3,23.3l-23.3,23.3l-23.3,-23.3z" fill="#ff0000"/><path d="M985.1,1421.9l23.3,23.3l-23.3,23.3l-23.3,-23.3z" fill="#ff0000"/><path d="M1015.1,1419.9l23.3,23.3l-23.3,23.3l-23.3,-23.3z" fill="#ff0000"/><path d="M1045,1417.8l23.3,23.3l-23.3,23.3l-23.3,-23.3z" fill="#ff0000"/><path d="M1075,1415.6l23.3,23.3l-23.3,23.3l-23.3,-23.3z" fill="#ff0000"/><path d="M1105,1413.4l23.3,23.3l-23.3,23.3l-23.3,-23.3z" fill="#ff0000"/><path d="M1135,1411l23.3,23.3l-23.3,23.3l-23.3,-23.3z" fill="#ff0000"/><path d="M1165,1408.6l23.3,23.3l-23.3,23.3l-23.3,-23.3z" fill="#ff0000"/><path d="M1195,1406.1l23.3,23.3l-23.3,23.3l-23.3,-23.3z" fill="#ff0000"/><path d="M1224.9,1403.5l23.3,23.3l-23.3,23.3l-23.3,-23.3z" fill="#ff0000"/><path d="M1254.9,1400.8l23.3,23.3l-23.3,23.3l-23.3,-23.3z" fill="#ff0000"/><path d="M1284.9,1398.1l23.3,23.3l-23.3,23.3l-23.3,-23.3z" fill="#ff0000"/><path d="M1314.9,1395.2l23.3,23.3l-23.3,23.3l-23.3,-23.3z" fill="#ff0000"/><path d="M1344.9,1392.3l23.3,23.3l-23.3,23.3l-23.3,-23.3z" fill="#ff0000"/><path d="M1374.9,1389.3l23.3,23.3l-23.3,23.3l-23.3,-23.3z" fill="#ff0000"/><path d="M1404.9,1386.1l23.3,23.3l-23.3,23.3l-23.3,-23.3z" fill="#ff0000"/><path d="M1434.8,1382.9l23.3,23.3l-23.3,23.3l-23.3,-23.3z" fill="#ff0000"/><path d="M1464.8,1379.7l23.3,23.3l-23.3,23.3l-23.3,-23.3z" fill="#ff0000"/><path d="M1494.8,1376.3l23.3,23.3l-23.3,23.3l-23.3,-23.3z" fill="#ff0000"/><path d="M1524.8,1372.8l23.3,23.3l-23.3,23.3l-23.3,-23.3z" fill="#ff0000"/><path d="M1554.8,1369.3l23.3,23.3l-23.3,23.3l-23.3,-23.3z" fill="#ff0000"/><path d="M1584.8,1365.6l23.3,23.3l-23.3,23.3l-23.3,-23.3z" fill="#ff0000"/><path d="M1614.8,1361.9l23.3,23.3l-23.3,23.3l-23.3,-23.3z" fill="#ff0000"/><path d="M1644.7,1358.1l23.3,23.3l-23.3,23.3l-23.3,-23.3z" fill="#ff0000"/><path d="M1674.7,1354.2l23.3,23.3l-23.3,23.3l-23.3,-23.3z" fill="#ff0000"/><path d="M1704.7,1350.2l23.3,23.3l-23.3,23.3l-23.3,-23.3z" fill="#ff0000"/><path d="M1734.7,1346.1l23.3,23.3l-23.3,23.3l-23.3,-23.3z" fill="#ff0000"/><path d="M1764.7,1342l23.3,23.3l-23.3,23.3l-23.3,-23.3z" fill="#ff0000"/><path d="M1794.7,1337.7l23.3,23.3l-23.3,23.3l-23.3,-23.3z" fill="#ff0000"/><path d="M1824.7,1333.3l23.3,23.3l-23.3,23.3l-23.3,-23.3z" fill="#ff0000"/><path d="M1854.6,1328.9l23.3,23.3l-23.3,23.3l-23.3,-23.3z" fill="#ff0000"/><path d="M1884.6,1324.4l23.3,23.3l-23.3,23.3l-23.3,-23.3z" fill="#ff0000"/><path d="M1914.6,1319.8l23.3,23.3l-23.3,23.3l-23.3,-23.3z" fill="#ff0000"/><path d="M1944.6,1315l23.3,23.3l-23.3,23.3l-23.3,-23.3z" fill="#ff0000"/><path d="M1974.6,1310.2l23.3,23.3l-23.3,23.3l-23.3,-23.3z" fill="#ff0000"/><path d="M2004.6,1305.3l23.3,23.3l-23.3,23.3l-23.3,-23.3z" fill="#ff0000"/><path d="M2034.5,1300.4l23.3,23.3l-23.3,23.3l-23.3,-23.3z" fill="#ff0000"/><path d="M2064.5,1295.3l23.3,23.3l-23.3,23.3l-23.3,-23.3z" fill="#ff0000"/><path d="M2094.5,1290.1l23.3,23.3l-23.3,23.3l-23.3,-23.3z" fill="#ff0000"/><path d="M2124.5,1284.8l23.3,23.3l-23.3,23.3l-23.3,-23.3z" fill="#ff0000"/></g>
</g>
<path d="M309,263.3 L355.1,263.2 L401.3,262.9 L447.4,262.4 L493.5,261.8 L539.6,261 L585.8,260.1 L631.9,259 L678,257.7 L724.2,256.3 L770.3,254.7 L816.4,252.9 L862.5,251 L908.7,249 L954.8,246.7 L1000.9,244.3 L1047.1,241.8 L1093.2,239.1 L1139.3,236.2 L1185.4,233.2 L1231.6,230 L1277.7,226.7 L1323.8,223.2 L1369.9,219.6 L1416.1,215.8 L1462.2,211.8 L1508.3,207.7 L1554.5,203.5 L1600.6,199.1 L1646.7,194.5 L1692.8,189.8 L1739,184.9 L1785.1,179.8 L1831.2,174.7 L1877.4,169.3 L1923.5,163.8 L1969.6,158.2 L2015.7,152.4 L2061.9,146.5 L2108,140.4 L2108,240.5 L2061.9,246.9 L2015.7,253.2 L1969.6,259.3 L1923.5,265.2 L1877.4,270.9 L1831.2,276.5 L1785.1,281.9 L1739,287.1 L1692.8,292.2 L1646.7,297.1 L1600.6,301.8 L1554.5,306.4 L1508.3,310.8 L1462.2,315 L1416.1,319.1 L1369.9,323 L1323.8,326.7 L1277.7,330.3 L1231.6,333.7 L1185.4,337 L1139.3,340.1 L1093.2,343 L1047.1,345.8 L1000.9,348.4 L954.8,350.8 L908.7,353.1 L862.5,355.2 L816.4,357.2 L770.3,359 L724.2,360.7 L678,362.1 L631.9,363.5 L585.8,364.6 L539.6,365.7 L493.5,366.5 L447.4,367.2 L401.3,367.8 L355.1,368.2 L309,368.4Z" fill="#fff"/>
<path d="M309,268.3 L355.1,268.2 L401.3,267.9 L447.4,267.4 L493.5,266.8 L539.6,266 L585.8,265.1 L631.9,264 L678,262.7 L724.2,261.3 L770.3,259.7 L816.4,257.9 L862.5,256 L908.7,254 L954.8,251.7 L1000.9,249.3 L1047.1,246.8 L1093.2,244.1 L1139.3,241.2 L1185.4,238.2 L1231.6,235 L1277.7,231.7 L1323.8,228.2 L1369.9,224.6 L1416.1,220.8 L1462.2,216.8 L1508.3,212.7 L1554.5,208.5 L1600.6,204.1 L1646.7,199.5 L1692.8,194.8 L1739,189.9 L1785.1,184.8 L1831.2,179.7 L1877.4,174.3 L1923.5,168.8 L1969.6,163.2 L2015.7,157.4 L2061.9,151.5 L2108,145.4 L2108,236 L2061.9,242.4 L2015.7,248.7 L1969.6,254.8 L1923.5,260.7 L1877.4,266.4 L1831.2,272 L1785.1,277.4 L1739,282.6 L1692.8,287.7 L1646.7,292.6 L1600.6,297.3 L1554.5,301.9 L1508.3,306.3 L1462.2,310.5 L1416.1,314.6 L1369.9,318.5 L1323.8,322.2 L1277.7,325.8 L1231.6,329.2 L1185.4,332.5 L1139.3,335.6 L1093.2,338.5 L1047.1,341.3 L1000.9,343.9 L954.8,346.3 L908.7,348.6 L862.5,350.7 L816.4,352.7 L770.3,354.5 L724.2,356.2 L678,357.6 L631.9,359 L585.8,360.1 L539.6,361.2 L493.5,362 L447.4,362.7 L401.3,363.3 L355.1,363.7 L309,363.9Z" fill="url(#hb)"/>
<path d="M306,944.5 L352.5,944.3 L399,943.9 L445.4,943.3 L491.9,942.6 L538.4,941.7 L584.9,940.6 L631.4,939.3 L677.9,937.8 L724.3,936.2 L770.8,934.4 L817.3,932.4 L863.8,930.2 L910.3,927.8 L956.7,925.2 L1003.2,922.4 L1049.7,919.4 L1096.2,916.3 L1142.7,912.9 L1189.2,909.3 L1235.6,905.5 L1282.1,901.5 L1328.6,897.3 L1375.1,892.8 L1421.6,888.2 L1468.1,883.3 L1514.5,878.3 L1561,873 L1607.5,867.4 L1654,861.7 L1700.5,855.7 L1746.9,849.5 L1793.4,843 L1839.9,836.4 L1886.4,829.5 L1932.9,822.3 L1979.4,814.9 L2025.8,807.3 L2072.3,799.4 L2118.8,791.3 L2118.8,908.7 L2072.3,915 L2025.8,921.3 L1979.4,927.4 L1932.9,933.6 L1886.4,939.6 L1839.9,945.5 L1793.4,951.4 L1746.9,957.1 L1700.5,962.8 L1654,968.3 L1607.5,973.8 L1561,979.1 L1514.5,984.4 L1468.1,989.4 L1421.6,994.4 L1375.1,999.3 L1328.6,1004 L1282.1,1008.6 L1235.6,1013 L1189.2,1017.3 L1142.7,1021.4 L1096.2,1025.4 L1049.7,1029.2 L1003.2,1032.8 L956.7,1036.3 L910.3,1039.6 L863.8,1042.7 L817.3,1045.7 L770.8,1048.4 L724.3,1051 L677.9,1053.3 L631.4,1055.5 L584.9,1057.5 L538.4,1059.2 L491.9,1060.7 L445.4,1062.1 L399,1063.2 L352.5,1064 L306,1064.6Z" fill="#fff"/>
<path d="M306,949.5 L352.4,949.3 L398.8,948.9 L445.2,948.3 L491.5,947.6 L537.9,946.7 L584.3,945.6 L630.7,944.3 L677.1,942.9 L723.5,941.2 L769.8,939.4 L816.2,937.4 L862.6,935.2 L909,932.9 L955.4,930.3 L1001.8,927.5 L1048.2,924.5 L1094.5,921.4 L1140.9,918 L1187.3,914.4 L1233.7,910.7 L1280.1,906.7 L1326.5,902.5 L1372.8,898.1 L1419.2,893.4 L1465.6,888.6 L1512,883.5 L1558.4,878.3 L1604.8,872.8 L1651.2,867 L1697.5,861.1 L1743.9,854.9 L1790.3,848.5 L1836.7,841.8 L1883.1,835 L1929.5,827.9 L1975.8,820.5 L2022.2,812.9 L2068.6,805.1 L2115,797 L2115,904.7 L2068.6,911 L2022.2,917.2 L1975.8,923.4 L1929.5,929.5 L1883.1,935.5 L1836.7,941.4 L1790.3,947.3 L1743.9,953 L1697.5,958.6 L1651.2,964.2 L1604.8,969.6 L1558.4,974.9 L1512,980.1 L1465.6,985.2 L1419.2,990.2 L1372.8,995 L1326.5,999.7 L1280.1,1004.3 L1233.7,1008.7 L1187.3,1012.9 L1140.9,1017 L1094.5,1021 L1048.2,1024.8 L1001.8,1028.4 L955.4,1031.9 L909,1035.2 L862.6,1038.3 L816.2,1041.2 L769.8,1044 L723.5,1046.5 L677.1,1048.9 L630.7,1051 L584.3,1053 L537.9,1054.7 L491.5,1056.3 L445.2,1057.6 L398.8,1058.7 L352.4,1059.5 L306,1060.1Z" fill="url(#hg)"/>
<path d="M309,1175.9 L355.2,1174.7 L401.4,1173.6 L447.6,1172.4 L493.8,1171.1 L540,1169.8 L586.2,1168.3 L632.4,1166.8 L678.6,1165.2 L724.8,1163.4 L771.1,1161.5 L817.3,1159.5 L863.5,1157.4 L909.7,1155 L955.9,1152.6 L1002.1,1149.9 L1048.3,1147 L1094.5,1144 L1140.7,1140.7 L1186.9,1137.2 L1233.1,1133.4 L1279.3,1129.4 L1325.5,1125.2 L1371.7,1120.7 L1417.9,1115.9 L1464.1,1110.8 L1510.3,1105.5 L1556.5,1099.8 L1602.7,1093.8 L1648.9,1087.4 L1695.2,1080.8 L1741.4,1073.7 L1787.6,1066.3 L1833.8,1058.6 L1880,1050.4 L1926.2,1041.8 L1972.4,1032.9 L2018.6,1023.5 L2064.8,1013.7 L2111,1003.5 L2111,1286.7 L2064.8,1295.8 L2018.6,1304.6 L1972.4,1313.1 L1926.2,1321.1 L1880,1328.8 L1833.8,1336.2 L1787.6,1343.3 L1741.4,1350 L1695.2,1356.4 L1648.9,1362.5 L1602.7,1368.3 L1556.5,1373.8 L1510.3,1379 L1464.1,1384 L1417.9,1388.6 L1371.7,1393.1 L1325.5,1397.3 L1279.3,1401.2 L1233.1,1404.9 L1186.9,1408.4 L1140.7,1411.7 L1094.5,1414.8 L1048.3,1417.7 L1002.1,1420.4 L955.9,1423 L909.7,1425.3 L863.5,1427.5 L817.3,1429.6 L771.1,1431.5 L724.8,1433.3 L678.6,1435 L632.4,1436.5 L586.2,1438 L540,1439.3 L493.8,1440.5 L447.6,1441.7 L401.4,1442.8 L355.2,1443.9 L309,1444.8Z" fill="#fff"/>
<path d="M309,1180.9 L355.2,1179.7 L401.4,1178.6 L447.6,1177.4 L493.8,1176.1 L540,1174.8 L586.2,1173.3 L632.4,1171.8 L678.6,1170.2 L724.8,1168.4 L771.1,1166.5 L817.3,1164.5 L863.5,1162.4 L909.7,1160 L955.9,1157.6 L1002.1,1154.9 L1048.3,1152 L1094.5,1149 L1140.7,1145.7 L1186.9,1142.2 L1233.1,1138.4 L1279.3,1134.4 L1325.5,1130.2 L1371.7,1125.7 L1417.9,1120.9 L1464.1,1115.8 L1510.3,1110.5 L1556.5,1104.8 L1602.7,1098.8 L1648.9,1092.4 L1695.2,1085.8 L1741.4,1078.7 L1787.6,1071.3 L1833.8,1063.6 L1880,1055.4 L1926.2,1046.8 L1972.4,1037.9 L2018.6,1028.5 L2064.8,1018.7 L2111,1008.5 L2111,1282.2 L2064.8,1291.3 L2018.6,1300.1 L1972.4,1308.6 L1926.2,1316.6 L1880,1324.3 L1833.8,1331.7 L1787.6,1338.8 L1741.4,1345.5 L1695.2,1351.9 L1648.9,1358 L1602.7,1363.8 L1556.5,1369.3 L1510.3,1374.5 L1464.1,1379.5 L1417.9,1384.1 L1371.7,1388.6 L1325.5,1392.8 L1279.3,1396.7 L1233.1,1400.4 L1186.9,1403.9 L1140.7,1407.2 L1094.5,1410.3 L1048.3,1413.2 L1002.1,1415.9 L955.9,1418.5 L909.7,1420.8 L863.5,1423 L817.3,1425.1 L771.1,1427 L724.8,1428.8 L678.6,1430.5 L632.4,1432 L586.2,1433.5 L540,1434.8 L493.8,1436 L447.6,1437.2 L401.4,1438.3 L355.2,1439.4 L309,1440.3Z" fill="url(#hr)"/>
<polygon points="1033,261 1358.5,240 1367,315 1041,335" fill="#fff"/>
<g transform="translate(1063.38,315.8) skewY(-2.862)"><text x="0" y="0" font-size="88" font-family="Liberation Serif, Times New Roman, serif" font-weight="bold" fill="#0000ff" textLength="241.96" lengthAdjust="spacingAndGlyphs">Δn &lt; 0</text></g>
<polygon points="1042,941 1371,913 1378,1004 1048,1025" fill="#fff"/>
<g transform="translate(1076.98,1000.1) skewY(-4.46)"><text x="0" y="0" font-size="88" font-family="Liberation Serif, Times New Roman, serif" font-weight="bold" fill="#008000" textLength="242.57" lengthAdjust="spacingAndGlyphs">Δn &lt; 0</text></g>
<polygon points="1041,1223 1367.5,1193 1373.5,1303 1046,1334" fill="#fff"/>
<g transform="translate(1076.07,1295.7) skewY(-4.004)"><text x="0" y="0" font-size="88" font-family="Liberation Serif, Times New Roman, serif" font-weight="bold" fill="#ff0000" textLength="244.1" lengthAdjust="spacingAndGlyphs">Δn &gt; 0</text></g>
<g stroke="#000" stroke-width="5.5" stroke-linecap="round">
<line x1="272.7" y1="1634.5" x2="299" y2="1634.5"/>
<line x1="272.7" y1="1408" x2="299" y2="1408"/>
<line x1="272.7" y1="1181.5" x2="299" y2="1181.5"/>
<line x1="272.7" y1="955" x2="299" y2="955"/>
<line x1="272.7" y1="728.5" x2="299" y2="728.5"/>
<line x1="272.7" y1="502" x2="299" y2="502"/>
<line x1="272.7" y1="275.5" x2="299" y2="275.5"/>
<line x1="272.7" y1="49" x2="299" y2="49"/>
<line x1="286" y1="1521.2" x2="299" y2="1521.2"/>
<line x1="286" y1="1294.8" x2="299" y2="1294.8"/>
<line x1="286" y1="1068.2" x2="299" y2="1068.2"/>
<line x1="286" y1="841.8" x2="299" y2="841.8"/>
<line x1="286" y1="615.2" x2="299" y2="615.2"/>
<line x1="286" y1="388.8" x2="299" y2="388.8"/>
<line x1="286" y1="162.2" x2="299" y2="162.2"/>
<line x1="647.9" y1="1680" x2="647.9" y2="1705.3"/>
<line x1="1015.4" y1="1680" x2="1015.4" y2="1705.3"/>
<line x1="1382.9" y1="1680" x2="1382.9" y2="1705.3"/>
<line x1="1750.4" y1="1680" x2="1750.4" y2="1705.3"/>
<line x1="2117.9" y1="1680" x2="2117.9" y2="1705.3"/>
<line x1="464.1" y1="1680" x2="464.1" y2="1692.3"/>
<line x1="831.6" y1="1680" x2="831.6" y2="1692.3"/>
<line x1="1199.2" y1="1680" x2="1199.2" y2="1692.3"/>
<line x1="1566.7" y1="1680" x2="1566.7" y2="1692.3"/>
<line x1="1934.2" y1="1680" x2="1934.2" y2="1692.3"/>
</g>
<g font-family="Liberation Serif, Times New Roman, serif" font-size="77.3" fill="#000" text-anchor="end">
<text x="256.9" y="1656.1">2.80</text>
<text x="256.9" y="1429.6">2.85</text>
<text x="256.9" y="1203.1">2.90</text>
<text x="256.9" y="976.6">2.95</text>
<text x="256.9" y="750.1">3.00</text>
<text x="256.9" y="523.6">3.05</text>
<text x="256.9" y="297.1">3.10</text>
<text x="256.9" y="70.6">3.15</text>
</g>
<g font-family="Liberation Serif, Times New Roman, serif" font-size="77" fill="#000" text-anchor="middle">
<text x="647.9" y="1784">0.6</text>
<text x="1015.4" y="1784">0.7</text>
<text x="1382.9" y="1784">0.8</text>
<text x="1750.4" y="1784">0.9</text>
<text x="2117.9" y="1784">1.0</text>
</g>
<text x="1104.6" y="1835" font-family="Liberation Serif, Times New Roman, serif" font-size="77.2" fill="#000">E (eV)</text>
<text transform="translate(81,1126.5) rotate(-90)" font-family="Liberation Serif, Times New Roman, serif" font-size="82.3" fill="#000">refractive index, n</text>
<circle cx="1471.8" cy="398.6" r="18.5" fill="#0000ff"/>
<circle cx="1471.2" cy="507.5" r="15.5" fill="none" stroke="#0000ff" stroke-width="6"/>
<text x="1562.44" y="420" font-size="68" font-family="Liberation Serif, Times New Roman, serif" font-weight="bold" fill="#0000ff" textLength="34.77" lengthAdjust="spacingAndGlyphs">n</text>
<text x="1597.46" y="444.9" font-size="68" font-family="Liberation Serif, Times New Roman, serif" font-weight="bold" fill="#0000ff" textLength="34" lengthAdjust="spacingAndGlyphs">1</text>
<text x="1648.78" y="420" font-size="68" font-family="Liberation Serif, Times New Roman, serif" font-weight="bold" fill="#0000ff" textLength="309.93" lengthAdjust="spacingAndGlyphs">(5aSi+OH)</text>
<text x="1561.34" y="530" font-size="68" font-family="Liberation Serif, Times New Roman, serif" font-weight="bold" fill="#0000ff" textLength="34.77" lengthAdjust="spacingAndGlyphs">n</text>
<text x="1596.08" y="555" font-size="68" font-family="Liberation Serif, Times New Roman, serif" font-weight="bold" fill="#0000ff" textLength="34" lengthAdjust="spacingAndGlyphs">3</text>
<text x="1647.98" y="530" font-size="68" font-family="Liberation Serif, Times New Roman, serif" font-weight="bold" fill="#0000ff" textLength="310.75" lengthAdjust="spacingAndGlyphs">(5aSi+OH)</text>
<path d="M405.9,670.8l22,39h-44z" fill="#008000"/>
<path d="M405.9,781.1l22,38.5h-44z M405.9,790.8l-14.1,22.7h28.2z" fill="#008000" fill-rule="evenodd"/>
<text x="496.54" y="717.8" font-size="68" font-family="Liberation Serif, Times New Roman, serif" font-weight="bold" fill="#008000" textLength="34.77" lengthAdjust="spacingAndGlyphs">n</text>
<text x="531.66" y="742.9" font-size="68" font-family="Liberation Serif, Times New Roman, serif" font-weight="bold" fill="#008000" textLength="34" lengthAdjust="spacingAndGlyphs">1</text>
<text x="581.97" y="717.8" font-size="68" font-family="Liberation Serif, Times New Roman, serif" font-weight="bold" fill="#008000" textLength="446.38" lengthAdjust="spacingAndGlyphs">(5aSi+OH+16H</text>
<text x="1026.01" y="742.9" font-size="68" font-family="Liberation Serif, Times New Roman, serif" font-weight="bold" fill="#008000" textLength="36.14" lengthAdjust="spacingAndGlyphs">2</text>
<text x="1061.1" y="717.8" font-size="68" font-family="Liberation Serif, Times New Roman, serif" font-weight="bold" fill="#008000" textLength="75.58" lengthAdjust="spacingAndGlyphs">O)</text>
<text x="496.54" y="828.4" font-size="68" font-family="Liberation Serif, Times New Roman, serif" font-weight="bold" fill="#008000" textLength="34.77" lengthAdjust="spacingAndGlyphs">n</text>
<text x="530.78" y="854" font-size="68" font-family="Liberation Serif, Times New Roman, serif" font-weight="bold" fill="#008000" textLength="34" lengthAdjust="spacingAndGlyphs">3</text>
<text x="581.97" y="828.4" font-size="68" font-family="Liberation Serif, Times New Roman, serif" font-weight="bold" fill="#008000" textLength="446.38" lengthAdjust="spacingAndGlyphs">(5aSi+OH+16H</text>
<text x="1026.01" y="854" font-size="68" font-family="Liberation Serif, Times New Roman, serif" font-weight="bold" fill="#008000" textLength="36.14" lengthAdjust="spacingAndGlyphs">2</text>
<text x="1061.1" y="828.4" font-size="68" font-family="Liberation Serif, Times New Roman, serif" font-weight="bold" fill="#008000" textLength="75.58" lengthAdjust="spacingAndGlyphs">O)</text>
<path d="M1378.5,1466l23.4,23.4l-23.4,23.4l-23.4,-23.4z" fill="#ff0000"/>
<path d="M1378.6,1577.1l21.5,21.5l-21.5,21.5l-21.5,-21.5z M1378.6,1584.1l-14.5,14.5l14.5,14.5l14.5,-14.5z" fill="#ff0000" fill-rule="evenodd"/>
<text x="1468.64" y="1511" font-size="68" font-family="Liberation Serif, Times New Roman, serif" font-weight="bold" fill="#ff0000" textLength="34.77" lengthAdjust="spacingAndGlyphs">n</text>
<text x="1504.56" y="1535.7" font-size="68" font-family="Liberation Serif, Times New Roman, serif" font-weight="bold" fill="#ff0000" textLength="34" lengthAdjust="spacingAndGlyphs">1</text>
<text x="1555.08" y="1511" font-size="68" font-family="Liberation Serif, Times New Roman, serif" font-weight="bold" fill="#ff0000" textLength="412.27" lengthAdjust="spacingAndGlyphs">(4aSi+OH+8H</text>
<text x="1965.22" y="1535.7" font-size="68" font-family="Liberation Serif, Times New Roman, serif" font-weight="bold" fill="#ff0000" textLength="36.02" lengthAdjust="spacingAndGlyphs">2</text>
<text x="2000.56" y="1511" font-size="68" font-family="Liberation Serif, Times New Roman, serif" font-weight="bold" fill="#ff0000" textLength="76.45" lengthAdjust="spacingAndGlyphs">O)</text>
<text x="1468.64" y="1619.9" font-size="68" font-family="Liberation Serif, Times New Roman, serif" font-weight="bold" fill="#ff0000" textLength="34.77" lengthAdjust="spacingAndGlyphs">n</text>
<text x="1503.28" y="1645.4" font-size="68" font-family="Liberation Serif, Times New Roman, serif" font-weight="bold" fill="#ff0000" textLength="34" lengthAdjust="spacingAndGlyphs">3</text>
<text x="1555.08" y="1619.9" font-size="68" font-family="Liberation Serif, Times New Roman, serif" font-weight="bold" fill="#ff0000" textLength="412.27" lengthAdjust="spacingAndGlyphs">(4aSi+OH+8H</text>
<text x="1965.22" y="1645.4" font-size="68" font-family="Liberation Serif, Times New Roman, serif" font-weight="bold" fill="#ff0000" textLength="36.02" lengthAdjust="spacingAndGlyphs">2</text>
<text x="2000.56" y="1619.9" font-size="68" font-family="Liberation Serif, Times New Roman, serif" font-weight="bold" fill="#ff0000" textLength="76.45" lengthAdjust="spacingAndGlyphs">O)</text>
</svg></body></html>
